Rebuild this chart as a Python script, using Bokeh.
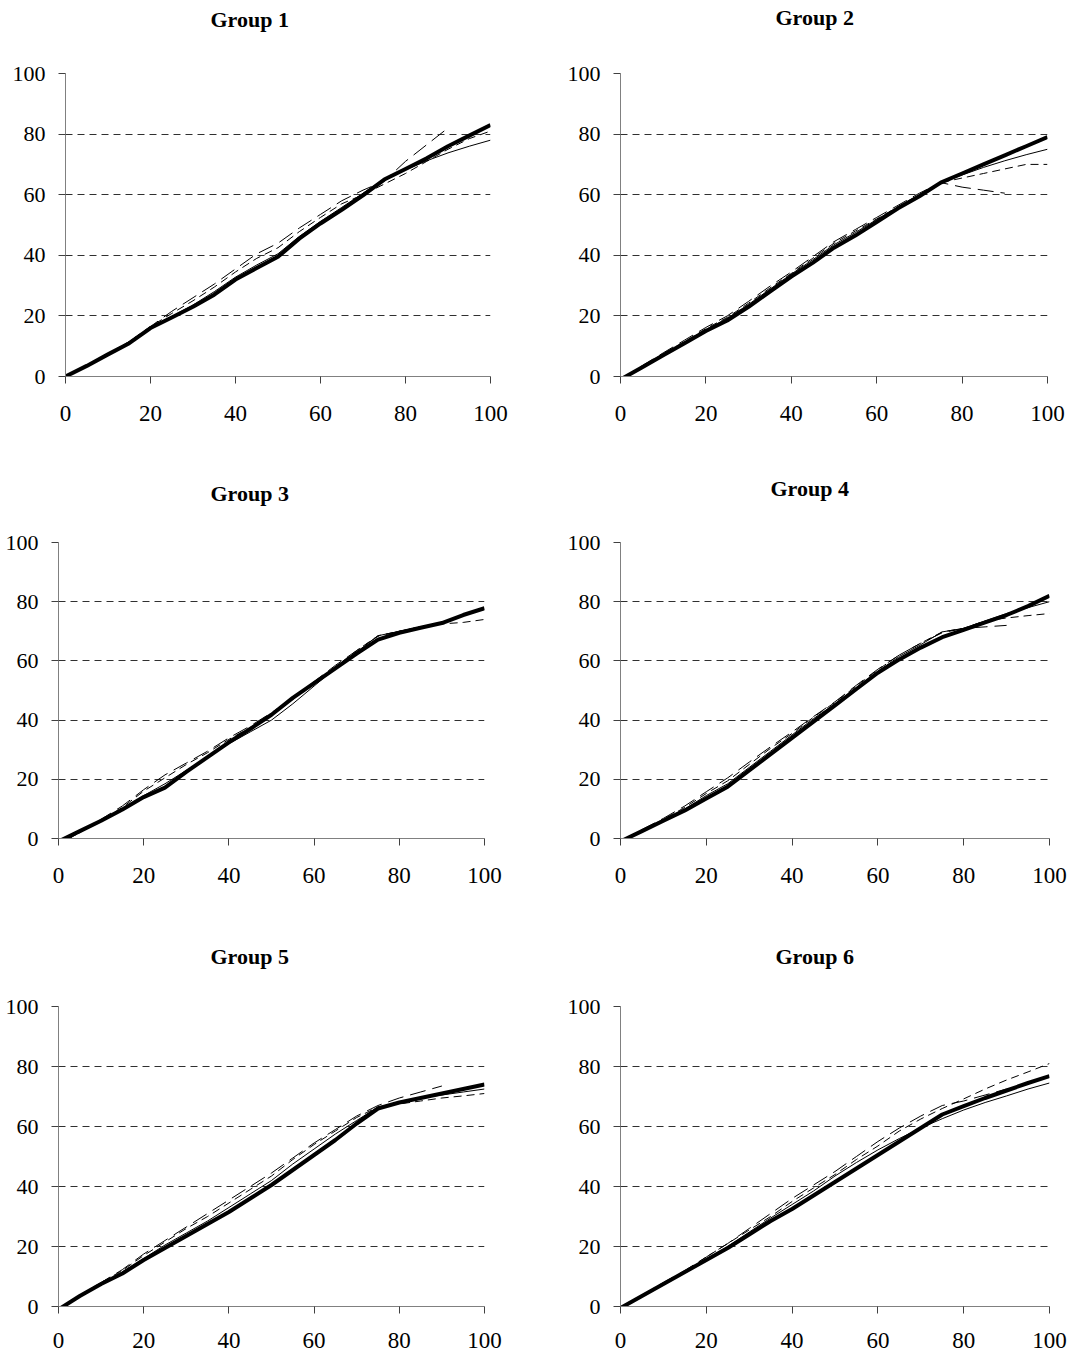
from bokeh.plotting import figure
from bokeh.layouts import column, row
from bokeh.models import Range1d, FixedTicker, Title
from bokeh.embed import file_html
from bokeh.resources import INLINE

# ---------------- data ----------------
x_full = [0, 5, 10, 15, 20, 25, 30, 35, 40, 45, 50, 55, 60, 65, 70, 75, 80, 85, 90, 95, 100]
x_long = [0, 5, 10, 15, 20, 25, 30, 35, 40, 45, 50, 55, 60, 65, 70, 75, 80, 85, 90]

group_titles = ["Group 1", "Group 2", "Group 3", "Group 4", "Group 5", "Group 6"]
tick_values = [0, 20, 40, 60, 80, 100]
grid_values = [20, 40, 60, 80, 100]

thick1 = [0, 3.5, 7.3, 11, 16, 19.5, 23, 27, 32, 35.8, 39.5, 45.5, 50.5, 55, 59.8, 65, 68.5, 72, 76, 79.5, 83]
thin1 = [0, 3.6, 7.4, 11.2, 16, 19.8, 23.6, 28, 32.8, 36.8, 40.5, 46.2, 51.2, 55.8, 60.5, 65.2, 68.2, 71.2, 73.8, 76, 78]
short1 = [0, 3.6, 7.5, 11.5, 16.5, 20.8, 25, 29.5, 34.5, 39, 42.5, 47.8, 52.5, 57, 60, 63.5, 67, 71, 75, 78.5, 81]
long1 = [0, 3.6, 7.5, 11.5, 16.5, 21.5, 26, 30.5, 35.5, 40.5, 44, 49, 53.5, 58, 61.5, 64.5, 71, 76.5, 82]

thick2 = [-1, 3, 7, 11, 15, 18.5, 23, 28, 33, 37.5, 42.5, 46.5, 51, 55.5, 59.5, 64, 67, 70, 73, 76, 79]
thin2 = [-1, 3.2, 7.2, 11.3, 15.5, 19.2, 23.8, 28.8, 33.8, 38.5, 43.5, 47.5, 51.8, 56, 60, 64, 66.5, 69, 71.2, 73.2, 75]
short2 = [-1, 3.3, 7.5, 11.5, 15.8, 19.5, 24.2, 29.2, 34, 39, 44, 48, 52, 56, 60, 64, 65.5, 67, 68.5, 70, 70]
long2 = [-1, 3.5, 7.8, 12, 16.2, 20, 24.8, 29.8, 34.5, 39.5, 44.5, 48.5, 52.5, 56.5, 60.5, 64, 62.5, 61.5, 60.5]

thick3 = [-1, 2.5, 6, 9.8, 14, 17.2, 22.5, 27.5, 32.5, 37, 41.8, 47.5, 52.5, 57.5, 62.5, 67.2, 69.5, 71.2, 72.8, 75.5, 77.8]
thin3 = [-1, 2.5, 6, 10, 14.5, 18.5, 23, 27.5, 32, 36, 40, 45.5, 51.5, 57.5, 63, 68.5, 70, 71.5, 73, 75.5, 77.5]
short3 = [-2, 2, 6, 10.5, 16, 20.5, 25, 29, 33.5, 37.5, 42, 47, 52.5, 58, 63.5, 68.5, 70, 71.5, 72.5, 73, 74]
long3 = [-2.5, 2, 6.5, 11, 16.5, 21.5, 25.5, 29.5, 34, 38, 42.5, 47.5, 53, 58.5, 63.5, 68.3, 70, 71.5, 73]

thick4 = [-1, 2.5, 6, 9.5, 13.5, 17.5, 23, 28.5, 34, 39.5, 45, 50.5, 56, 60.5, 64.5, 68, 70.5, 73, 75.5, 78.5, 82]
thin4 = [-1, 2.5, 6.2, 10, 14.5, 18.5, 24, 29.5, 35, 40.5, 45.5, 51, 56.5, 61.5, 65.5, 69.8, 71, 73.5, 76, 78, 80]
short4 = [-1, 2.8, 6.5, 10.5, 15.2, 19.5, 25, 30.5, 35.5, 41, 46, 51.5, 57, 62, 66, 69.8, 71, 73.5, 74.5, 75.3, 76]
long4 = [-1, 3, 6.8, 11, 15.8, 20.5, 25.8, 31, 36, 41.2, 46.2, 51.8, 57.2, 62, 66, 69.5, 71, 71.5, 72]

thick5 = [-1, 3.5, 7.5, 11, 15.5, 19.5, 23.5, 27.5, 31.5, 36, 40.5, 45.5, 50.5, 55.5, 61, 66, 68, 69.5, 71, 72.5, 74]
thin5 = [-1, 3.7, 7.7, 11.5, 16, 20.5, 24.5, 28.5, 33, 37.5, 42, 47.5, 52.5, 57.5, 62, 66.5, 68, 69.5, 70.5, 71.5, 72.5]
short5 = [-1, 3.8, 8, 12, 17, 21.5, 26, 30, 34.5, 39, 43.5, 49, 54, 58.5, 63, 66.5, 67.5, 68.5, 69.5, 70.2, 71]
long5 = [-1.5, 3.5, 8, 12.3, 17.5, 22, 26.5, 31, 35.5, 40, 44.5, 49.5, 54.5, 59, 63.5, 67, 69.5, 71.5, 73.5]

thick6 = [-0.5, 3.5, 7.5, 11.5, 15.5, 19.5, 24, 28.5, 32.5, 37, 41.5, 46, 50.5, 55, 59.5, 64, 66.8, 69.5, 72, 74.5, 76.8]
thin6 = [-0.5, 3.5, 7.5, 11.5, 15.8, 20, 24.8, 29.5, 34, 38.5, 43.5, 48, 52.2, 56, 59.5, 62.6, 65.5, 68, 70.2, 72.5, 74.5]
short6 = [-1, 3.5, 7.5, 11.8, 16.5, 21, 25.5, 30, 35, 39.5, 44, 49, 53.5, 58.5, 62.5, 66, 69.2, 72.5, 75.5, 78.2, 81]
long6 = [-1, 3.8, 8, 12, 16.5, 21, 26, 31, 36, 40.5, 45, 50, 55, 59.5, 63.5, 67, 68.5, 70.5, 72.5]

groups = [
    (thick1, thin1, short1, long1),
    (thick2, thin2, short2, long2),
    (thick3, thin3, short3, long3),
    (thick4, thin4, short4, long4),
    (thick5, thin5, short5, long5),
    (thick6, thin6, short6, long6),
]

# ---------------- layout (pixels) ----------------
# (width, height, border_left, border_right, border_top, border_bottom, x-label standoff,
#  title offset, spacer standoff between title and plot area)
layouts = [
    (555, 475, 65, 65, 73, 99, 22, 145, 36),
    (515, 475, 65, 23, 73, 99, 22, 155, 38),
    (555, 467, 58, 71, 65, 99, 22, 152, 31),
    (515, 467, 65, 21, 65, 104, 22, 150, 36),
    (555, 418, 58, 71, 64, 52, 19, 152, 32),
    (515, 418, 65, 21, 64, 54, 19, 155, 32),
]

FONT = "Liberation Serif"


def make_panel(i):
    w, h, bl, br, bt, bb, xs, toff, gap = layouts[i]
    title = Title(text=group_titles[i], align="left", offset=toff, standoff=0,
                  vertical_align="top", text_font=FONT, text_font_style="bold",
                  text_font_size="22px", text_color="black")
    p = figure(width=w, height=h, output_backend="svg", toolbar_location=None,
               title=title,
               x_range=Range1d(0, 100), y_range=Range1d(0, 100),
               min_border_left=bl, min_border_right=br,
               min_border_top=bt, min_border_bottom=bb)
    # empty spacer between the title and the plot area
    p.add_layout(Title(text=" ", text_font_size="2px", standoff=gap, text_color="white"), "above")
    p.outline_line_color = None
    p.background_fill_color = "white"
    p.border_fill_color = "white"

    p.xgrid.visible = False
    p.ygrid.ticker = FixedTicker(ticks=grid_values)
    p.ygrid.grid_line_color = "#303030"
    p.ygrid.grid_line_width = 1
    p.ygrid.grid_line_dash = "7 5"

    for ax in (p.xaxis[0], p.yaxis[0]):
        ax.ticker = FixedTicker(ticks=tick_values)
        ax.minor_tick_line_color = None
        ax.axis_line_color = "#808080"
        ax.axis_line_width = 1
        ax.major_tick_line_color = "#404040"
        ax.major_tick_in = 0
        ax.major_tick_out = 7
        ax.major_label_text_font = FONT
        ax.major_label_text_color = "black"
    p.xaxis[0].major_label_text_font_size = "23px"
    p.yaxis[0].major_label_text_font_size = "22px"
    p.xaxis[0].major_label_standoff = xs
    p.yaxis[0].major_label_standoff = 13

    thick, thin, short, long_ = groups[i]
    p.line(x_long, long_, line_color="black", line_width=1, line_dash="16 7")
    p.line(x_full, short, line_color="black", line_width=1, line_dash="8 5")
    p.line(x_full, thin, line_color="black", line_width=1)
    p.line(x_full, thick, line_color="black", line_width=4, line_join="round")
    return p


panels = [make_panel(i) for i in range(6)]
layout = column(row(panels[0], panels[1]), row(panels[2], panels[3]), row(panels[4], panels[5]))

open("out.html", "w").write(file_html(layout, INLINE))
